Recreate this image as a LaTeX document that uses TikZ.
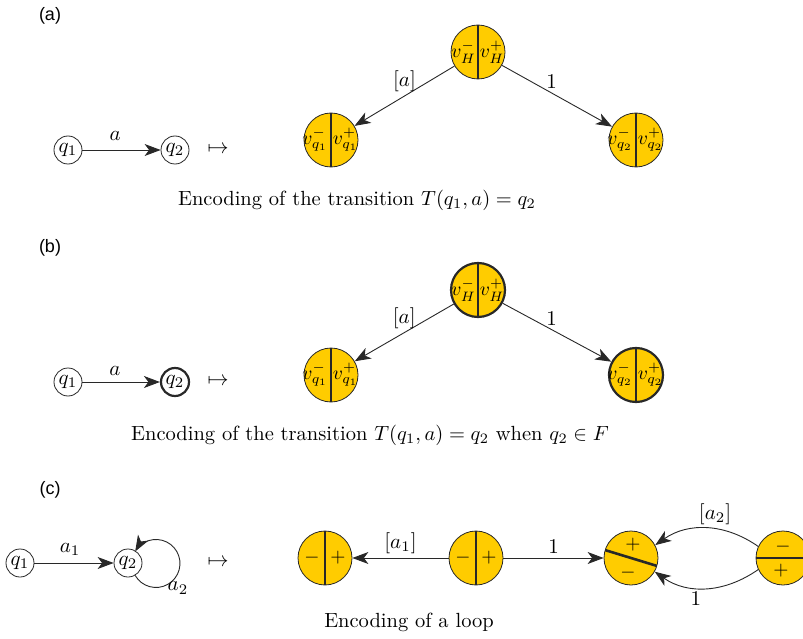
\documentclass[tikz,border=0pt]{standalone}
\usepackage{fontspec}
\usepackage{graphicx}
\newfontfamily\labfont{Liberation Sans}
\usetikzlibrary{arrows.meta}
\definecolor{gold}{RGB}{255,204,0}
\definecolor{dk}{RGB}{40,40,40}
\newcommand{\bigtx}[1]{\scalebox{2.1}{#1}}
\tikzset{
  tx/.style={scale=2.1, transform shape, font=\fontsize{10}{12}\selectfont, inner sep=1.5pt},
  goldvert/.style={circle, minimum size=54pt, inner sep=0pt, fill=gold, draw=dk, line width=0.8pt,
    path picture={\draw[dk,line width=2.6pt] (path picture bounding box.north) -- (path picture bounding box.south);}},
  goldthick/.style={goldvert, line width=2.2pt},
  goldslant/.style={circle, minimum size=54pt, inner sep=0pt, fill=gold, draw=dk, line width=0.8pt,
    path picture={\draw[dk,line width=2.6pt] ([shift={(163:32pt)}]path picture bounding box.center) -- ([shift={(-17:32pt)}]path picture bounding box.center);}},
  goldhor/.style={circle, minimum size=54pt, inner sep=0pt, fill=gold, draw=dk, line width=0.8pt,
    path picture={\draw[dk,line width=2.6pt] (path picture bounding box.west) -- (path picture bounding box.east);}},
  lbl/.style={font=\fontsize{10}{12}\selectfont, scale=1.95, transform shape, inner sep=0pt},
  qst/.style={circle, draw=dk, line width=0.8pt, minimum size=28pt, inner sep=0pt, font=\fontsize{10}{12}\selectfont},
  qfin/.style={qst, line width=2.2pt},
  arr/.style={draw=dk, line width=0.9pt, -{Stealth[length=16pt,width=12pt,inset=4.5pt]}},
  panel/.style={font=\labfont\fontsize{18}{20}\selectfont},
  capt/.style={font=\fontsize{10}{12}\selectfont, scale=2.05, transform shape},
}
\begin{document}
\begin{tikzpicture}[x=1pt,y=1pt]
\useasboundingbox (0,0) rectangle (803,-639);

% ---------------- (a)
\node[panel] (pa) at (50,-16) {(a)};
\node[goldvert] (ah) at (478,-52) {};
\node[goldvert] (al) at (331,-140) {};
\node[goldvert] (ar) at (636,-140) {};
\node[lbl] (ahm) at ([xshift=-14.5pt]ah.center) {$v_H^-$};
\node[lbl] (ahp) at ([xshift=14pt]ah.center) {$v_H^+$};
\node[lbl] (alm) at ([xshift=-16pt]al.center) {$v_{q_1}^-$};
\node[lbl] (alp) at ([xshift=14.5pt]al.center) {$v_{q_1}^+$};
\node[lbl] (arm) at ([xshift=-16pt]ar.center) {$v_{q_2}^-$};
\node[lbl] (arp) at ([xshift=14.5pt]ar.center) {$v_{q_2}^+$};
\draw[arr] (ah) -- node[pos=0.5, above, tx] {$[a]$} (al);
\draw[arr] (ah) -- node[pos=0.45, above, tx] {$1$} (ar);
\node[qst] (aq1) at (68,-150) {\bigtx{$q_1$}};
\node[qst] (aq2) at (175,-150) {\bigtx{$q_2$}};
\draw[arr] (aq1) -- node[pos=0.42, above, tx, inner sep=4pt] {$a$} (aq2);
\node[tx] (amap) at (218,-150) {$\mapsto$};
\node[capt] (acap) at (357,-200) {Encoding of the transition $T(q_1,a)=q_2$};

% ---------------- (b)
\node[panel] (pb) at (50,-248) {(b)};
\node[goldthick] (bh) at (478,-290) {};
\node[goldvert] (bl) at (331,-375) {};
\node[goldthick] (br) at (636,-375) {};
\node[lbl] (bhm) at ([xshift=-14.5pt]bh.center) {$v_H^-$};
\node[lbl] (bhp) at ([xshift=14pt]bh.center) {$v_H^+$};
\node[lbl] (blm) at ([xshift=-16pt]bl.center) {$v_{q_1}^-$};
\node[lbl] (blp) at ([xshift=14.5pt]bl.center) {$v_{q_1}^+$};
\node[lbl] (brm) at ([xshift=-16pt]br.center) {$v_{q_2}^-$};
\node[lbl] (brp) at ([xshift=14.5pt]br.center) {$v_{q_2}^+$};
\draw[arr] (bh) -- node[pos=0.5, above, tx] {$[a]$} (bl);
\draw[arr] (bh) -- node[pos=0.45, above, tx] {$1$} (br);
\node[qst] (bq1) at (68,-382) {\bigtx{$q_1$}};
\node[qfin] (bq2) at (175,-382) {\bigtx{$q_2$}};
\draw[arr] (bq1) -- node[pos=0.42, above, tx, inner sep=2.5pt] {$a$} (bq2);
\node[tx] (bmap) at (218,-382) {$\mapsto$};
\node[capt] (bcap) at (370,-435) {Encoding of the transition $T(q_1,a)=q_2$ when $q_2\in F$};

% ---------------- (c)
\node[panel] (pc) at (50,-490) {(c)};
\node[qst] (cq1) at (20,-563) {\bigtx{$q_1$}};
\node[qst] (cq2) at (128,-563) {\bigtx{$q_2$}};
\draw[arr] (cq1) -- node[pos=0.45, above, tx, inner sep=3pt] {$a_1$} (cq2);
\draw[arr] (cq2.-60) arc[start angle=210, end angle=510, radius=24];
\node[tx] (ca2) at (178,-588) {$a_2$};
\node[tx] (cmap) at (218,-563) {$\mapsto$};

\node[goldvert] (cl) at (325,-558) {};
\node[goldvert] (cm) at (476,-558) {};
\node[goldslant] (cr) at (631,-558) {};
\node[goldhor] (cf) at (783,-558) {};
\node[lbl] (clm) at ([xshift=-13pt]cl.center) {$-$};
\node[lbl] (clp) at ([xshift=13pt]cl.center) {$+$};
\node[lbl] (cmm) at ([xshift=-13pt]cm.center) {$-$};
\node[lbl] (cmp) at ([xshift=13pt]cm.center) {$+$};
\node[lbl] (crp) at ([shift={(2pt,13pt)}]cr.center) {$+$};
\node[lbl] (crm) at ([shift={(-3pt,-15pt)}]cr.center) {$-$};
\node[lbl] (cfm) at ([yshift=11pt]cf.center) {$-$};
\node[lbl] (cfp) at ([shift={(-2pt,-13pt)}]cf.center) {$+$};
\draw[arr] (cm) -- node[above, tx] {$[a_1]$} (cl);
\draw[arr] (cm) -- node[above, tx] {$1$} (cr);
\draw[arr] (cf.155) to[out=145, in=35] node[pos=0.42, above, tx] {$[a_2]$} (cr.28);
\draw[arr] (cf.205) to[out=215, in=-35] node[pos=0.6, below, tx] {$1$} (cr.-30);
\node[capt] (ccap) at (409,-622) {Encoding of a loop};
\end{tikzpicture}
\end{document}
